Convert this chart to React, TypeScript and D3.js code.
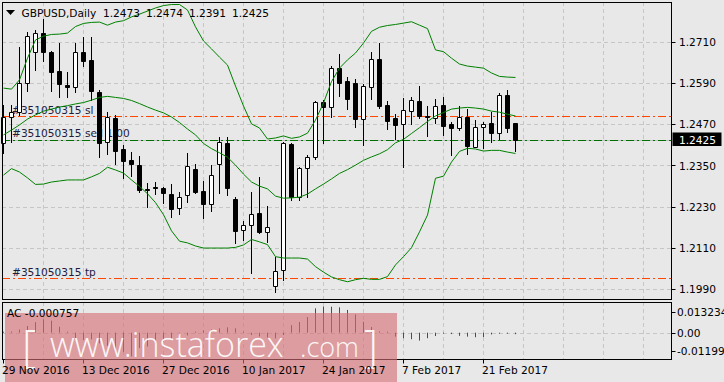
import React from "react";
import * as d3 from "d3";

const W = 724;
const H = 382;

// ---- data (GBPUSD Daily) ----
const opens = [
  1.2415, 1.2490, 1.2506, 1.2589, 1.2681, 1.2734, 1.2679, 1.2625, 1.2584, 1.2579,
  1.2681, 1.2657, 1.2565, 1.2417, 1.2487, 1.2397, 1.2366, 1.2351, 1.2282, 1.2287,
  1.2284, 1.2266, 1.2226, 1.2263, 1.2339, 1.2276, 1.2237, 1.2354, 1.2415, 1.2252,
  1.2163, 1.2177, 1.2213, 1.2156, 1.1999, 1.2046, 1.2413, 1.2259, 1.2342, 1.2374,
  1.2534, 1.2519, 1.2633, 1.2596, 1.2589, 1.2484, 1.2579, 1.2659, 1.2526, 1.2487,
  1.2470, 1.2508, 1.2538, 1.2494, 1.2487, 1.2526, 1.2471, 1.2458, 1.2490, 1.2405,
  1.2461, 1.2473, 1.2445, 1.2555, 1.2473,
];
const highs = [
  1.2526, 1.2526, 1.2695, 1.2739, 1.2744, 1.2775, 1.2683, 1.2705, 1.2623, 1.2705,
  1.2724, 1.2724, 1.2570, 1.2506, 1.2497, 1.2410, 1.2390, 1.2378, 1.2298, 1.2303,
  1.2288, 1.2296, 1.2274, 1.2385, 1.2354, 1.2305, 1.2351, 1.2434, 1.2432, 1.2259,
  1.2190, 1.2274, 1.2317, 1.2232, 1.2085, 1.2417, 1.2416, 1.2347, 1.2381, 1.2538,
  1.2540, 1.2639, 1.2674, 1.2606, 1.2601, 1.2587, 1.2681, 1.2707, 1.2538, 1.2499,
  1.2545, 1.2548, 1.2581, 1.2523, 1.2542, 1.2548, 1.2477, 1.2523, 1.2513, 1.2482,
  1.2477, 1.2506, 1.2560, 1.2570, 1.2474,
];
const lows = [
  1.2386, 1.2419, 1.2497, 1.2567, 1.2628, 1.2655, 1.2567, 1.2548, 1.2548, 1.2565,
  1.2639, 1.2540, 1.2376, 1.2383, 1.2354, 1.2313, 1.2320, 1.2274, 1.2228, 1.2266,
  1.2240, 1.2199, 1.2208, 1.2245, 1.2269, 1.2197, 1.2219, 1.2269, 1.2264, 1.2124,
  1.2133, 1.2037, 1.2155, 1.2128, 1.1983, 1.2017, 1.2250, 1.2250, 1.2259, 1.2369,
  1.2416, 1.2490, 1.2552, 1.2514, 1.2463, 1.2410, 1.2542, 1.2516, 1.2456, 1.2426,
  1.2345, 1.2471, 1.2487, 1.2436, 1.2474, 1.2439, 1.2381, 1.2453, 1.2383, 1.2403,
  1.2400, 1.2419, 1.2426, 1.2448, 1.2391,
];
const closes = [
  1.2492, 1.2505, 1.2589, 1.2726, 1.2734, 1.2679, 1.2623, 1.2586, 1.2577, 1.2679,
  1.2655, 1.2567, 1.2416, 1.2490, 1.2393, 1.2364, 1.2354, 1.2279, 1.2278, 1.2286,
  1.2269, 1.2223, 1.2259, 1.2349, 1.2274, 1.2237, 1.2322, 1.2417, 1.2284, 1.2160,
  1.2176, 1.2208, 1.2158, 1.2172, 1.2044, 1.2415, 1.2259, 1.2342, 1.2374, 1.2534,
  1.2519, 1.2633, 1.2591, 1.2543, 1.2484, 1.2581, 1.2659, 1.2523, 1.2480, 1.2468,
  1.2511, 1.2540, 1.2494, 1.2490, 1.2524, 1.2466, 1.2460, 1.2490, 1.2408, 1.2461,
  1.2471, 1.2445, 1.2555, 1.2460, 1.2425,
];

// Bollinger bands
const bbUpper = [
  1.2575, 1.2572, 1.2599, 1.2662, 1.2715, 1.2726, 1.2731, 1.2732, 1.2735, 1.2754,
  1.2763, 1.2766, 1.2767, 1.2758, 1.2767, 1.2771, 1.2782, 1.2790, 1.2799, 1.2808,
  1.2815, 1.2818, 1.2818, 1.2802, 1.2753, 1.2712, 1.2689, 1.2665, 1.2642, 1.2581,
  1.2523, 1.2471, 1.2459, 1.2427, 1.2430, 1.2436, 1.2429, 1.2433, 1.2444, 1.2482,
  1.2532, 1.2594, 1.2633, 1.2657, 1.2677, 1.2706, 1.2740, 1.2752, 1.2757, 1.2760,
  1.2764, 1.2768, 1.2758, 1.2748, 1.2686, 1.2681, 1.2662, 1.2645, 1.2639, 1.2636,
  1.2633, 1.2619, 1.2609, 1.2607, 1.2606,
];
const bbMiddle = [
  1.2439, 1.2453, 1.2468, 1.2485, 1.2497, 1.2508, 1.2514, 1.2520, 1.2524, 1.2529,
  1.2533, 1.2540, 1.2548, 1.2551, 1.2548, 1.2545, 1.2539, 1.2530, 1.2520, 1.2511,
  1.2503, 1.2491, 1.2475, 1.2456, 1.2439, 1.2414, 1.2399, 1.2387, 1.2374, 1.2351,
  1.2325, 1.2302, 1.2290, 1.2282, 1.2261, 1.2255, 1.2256, 1.2258, 1.2267, 1.2282,
  1.2296, 1.2311, 1.2327, 1.2338, 1.2351, 1.2365, 1.2375, 1.2384, 1.2396, 1.2416,
  1.2426, 1.2443, 1.2460, 1.2478, 1.2494, 1.2504, 1.2514, 1.2517, 1.2519, 1.2517,
  1.2514, 1.2508, 1.2505, 1.2499, 1.2494,
];
const bbLower = [
  1.2322, 1.2341, 1.2331, 1.2314, 1.2295, 1.2296, 1.2302, 1.2305, 1.2308, 1.2308,
  1.2308, 1.2317, 1.2327, 1.2345, 1.2337, 1.2328, 1.2308, 1.2289, 1.2268, 1.2242,
  1.2207, 1.2160, 1.2130, 1.2125, 1.2116, 1.2110, 1.2110, 1.2110, 1.2110, 1.2112,
  1.2119, 1.2135, 1.2128, 1.2120, 1.2085, 1.2081, 1.2081, 1.2081, 1.2078, 1.2056,
  1.2040, 1.2026, 1.2018, 1.2012, 1.2018, 1.2022, 1.2019, 1.2019, 1.2027, 1.2061,
  1.2085, 1.2111, 1.2157, 1.2206, 1.2313, 1.2319, 1.2360, 1.2391, 1.2400, 1.2398,
  1.2392, 1.2394, 1.2394, 1.2389, 1.2385,
];

// Accelerator Oscillator
const acValues = [
  0.00015, 0.0006, 0.0016, 0.0034, 0.0053, 0.0067, 0.0061, 0.0030, 0.0002, -0.0029,
  -0.0037, -0.0034, -0.0054, -0.0067, -0.0082, -0.0097, -0.01199, -0.0077, -0.0070, -0.0057,
  -0.0047, -0.0037, -0.0027, -0.0014, 0.00045, 0.0011, 0.0016, 0.0022, 0.0027, 0.0022,
  0.00035, -0.0012, -0.0019, -0.0024, -0.0029, -0.0012, 0.0038, 0.0054, 0.0079, 0.0123,
  0.013234, 0.0131, 0.0128, 0.0115, 0.0092, 0.0055, 0.0029, 0.0006, 0.00035, -0.0020,
  -0.0028, -0.0033, -0.0040, -0.0028, -0.0017, -0.0005, -0.0007, -0.0016, -0.0020, -0.0023,
  -0.0022, -0.0009, -0.0003, -0.0005, -0.000757,
];

const priceTicks = [1.2710, 1.2590, 1.2470, 1.2350, 1.2230, 1.2110, 1.1990];
const dateTickIndex = [0, 10, 20, 30, 40, 50, 60];
const dateTickLabels = [
  "29 Nov 2016", "13 Dec 2016", "27 Dec 2016", "10 Jan 2017",
  "24 Jan 2017", "7 Feb 2017", "21 Feb 2017",
];
const acTickValues = [0.013234, 0, -0.01199];
const acTickLabels = ["0.013234", "0.00", "-0.01199"];

const slPrice = 1.2493;
const entryPrice = 1.2425;
const tpPrice = 1.2024;
const orderId = "#351050315";

// ---- layout ----
const L = 2;
const R = 671;
const mainTop = 2;
const mainBottom = 299;
const indTop = 302;
const indBottom = 359;
const FONT = "'DejaVu Sans', Verdana, sans-serif";
const FS = 10.6;

const y = d3.scaleLinear().domain([1.199, 1.271]).range([289.33, 41.67]);
const x = d3.scaleLinear().domain([0, 1]).range([3, 11]);
const acY = d3.scaleLinear().domain([-0.01199, 0.013234]).range([356.4, 306.5]);

const fmt4 = d3.format(".4f");

export default function App() {
  const n = closes.length;
  const idx = d3.range(n);
  const bandLine = (arr: number[]) =>
    d3.line<number>().x((i) => Math.round(x(i)) + 0.5).y((i) => y(arr[i]))(idx) || "";

  const gridX = d3.range(1, 17).map((k) => Math.round(x(k * 5)) + 0.5);
  const last = n - 1;

  return (
    <svg width={W} height={H} style={{ display: "block", position: "absolute", left: 0, top: 0 }}
      fontFamily={FONT}>
      <rect x={0} y={0} width={W} height={H} fill="#e8e8e8" />

      {/* grid main */}
      <g stroke="#c6c6c6" strokeDasharray="4,3" strokeWidth={1}>
        {priceTicks.map((p) => (
          <line key={"hg" + p} x1={L} x2={R} y1={Math.round(y(p)) + 0.5} y2={Math.round(y(p)) + 0.5} />
        ))}
        {gridX.map((gx) => (
          <line key={"vg" + gx} x1={gx} x2={gx} y1={mainTop} y2={mainBottom} />
        ))}
        {gridX.map((gx) => (
          <line key={"vgi" + gx} x1={gx} x2={gx} y1={indTop} y2={indBottom} />
        ))}
        <line x1={L} x2={R} y1={Math.round(acY(0)) + 0.5} y2={Math.round(acY(0)) + 0.5} />
      </g>

      {/* order labels (under candles) */}
      <g fontSize={FS} fill="#1c1c40">
        <text x={12} y={114}>{orderId + " sl"}</text>
        <text x={12} y={136.5}>{orderId + " sell 1.00"}</text>
        <text x={12} y={275.5}>{orderId + " tp"}</text>
      </g>

      {/* bid line and order lines */}
      <line x1={L} x2={R} y1={Math.round(y(closes[last])) + 0.5} y2={Math.round(y(closes[last])) + 0.5}
        stroke="#bdbdbd" strokeWidth={1} />
      <line x1={L} x2={R} y1={Math.round(y(slPrice)) + 0.5} y2={Math.round(y(slPrice)) + 0.5}
        stroke="#ff4500" strokeWidth={1} strokeDasharray="8,3,2,3" />
      <line x1={L} x2={R} y1={Math.round(y(tpPrice)) + 0.5} y2={Math.round(y(tpPrice)) + 0.5}
        stroke="#ff4500" strokeWidth={1} strokeDasharray="8,3,2,3" />
      <line x1={L} x2={R} y1={Math.round(y(entryPrice)) + 0.5} y2={Math.round(y(entryPrice)) + 0.5}
        stroke="#007000" strokeWidth={1} strokeDasharray="8,3,2,3" />

      {/* candles */}
      <g>
        {idx.map((i) => {
          const cx = Math.round(x(i));
          const yo = y(opens[i]);
          const yc = y(closes[i]);
          const top = Math.round(Math.min(yo, yc)) + 0.5;
          const bot = Math.round(Math.max(yo, yc)) + 0.5;
          const bull = closes[i] >= opens[i];
          const x0 = cx - 1.5;
          const x1 = cx + 2.5;
          return (
            <g key={"c" + i}>
              <line x1={cx + 0.5} x2={cx + 0.5} y1={Math.round(y(highs[i]))} y2={Math.round(y(lows[i])) + 1}
                stroke="#000" strokeWidth={1} />
              <path d={`M${x0},${top}H${x1}V${bot}H${x0}Z`} fill={bull ? "#fff" : "#000"}
                stroke="#000" strokeWidth={1} />
            </g>
          );
        })}
      </g>

      {/* Bollinger bands */}
      <g fill="none" stroke="#008000" strokeWidth={1}>
        <path d={bandLine(bbUpper)} />
        <path d={bandLine(bbMiddle)} />
        <path d={bandLine(bbLower)} />
      </g>

      {/* AC histogram */}
      <g strokeWidth={1}>
        {idx.map((i) => {
          const cx = Math.round(x(i)) + 0.5;
          const up = i === 0 ? true : acValues[i] > acValues[i - 1];
          const y0 = acY(0);
          const y1 = acY(acValues[i]);
          return (
            <line key={"ac" + i} x1={cx} x2={cx} y1={y0} y2={Math.abs(y1 - y0) < 1 ? y0 + (y1 < y0 ? -1 : 1) : y1}
              stroke={up ? "#008000" : "#ff0000"} />
          );
        })}
      </g>

      {/* panel borders */}
      <g fill="none" stroke="#000" strokeWidth={1}>
        <rect x={L + 0.5} y={mainTop + 0.5} width={R - L} height={mainBottom - mainTop} />
        <rect x={L + 0.5} y={indTop + 0.5} width={R - L} height={indBottom - indTop} />
      </g>

      {/* price axis */}
      <g fontSize={FS} fill="#000">
        {priceTicks.map((p) => (
          <g key={"pt" + p}>
            <line x1={R + 0.5} x2={R + 4.5} y1={Math.round(y(p)) + 0.5} y2={Math.round(y(p)) + 0.5} stroke="#000" />
            <text x={679} y={y(p)} dominantBaseline="central">{fmt4(p)}</text>
          </g>
        ))}
      </g>
      <rect x={672.5} y={132.5} width={49} height={13.5} fill="#000" />
      <text x={679} y={139.5} fontSize={FS} fill="#fff" dominantBaseline="central">{fmt4(closes[last])}</text>

      {/* AC axis */}
      <g fontSize={FS} fill="#000">
        {acTickValues.map((v, k) => {
          const ty = k === 0 ? 311.7 : k === 2 ? 351 : acY(v);
          return (
            <g key={"at" + k}>
              <line x1={R + 0.5} x2={R + 4.5} y1={Math.round(ty) + 0.5} y2={Math.round(ty) + 0.5} stroke="#000" />
              <text x={677} y={ty} dominantBaseline="central">{acTickLabels[k]}</text>
            </g>
          );
        })}
      </g>

      {/* date ticks */}
      <g>
        {dateTickIndex.map((di) => {
          const tx = Math.round(x(di)) + 0.5;
          return (
            <line key={"dt" + di} x1={tx} x2={tx} y1={indBottom + 0.5} y2={indBottom + 4.5} stroke="#000" />
          );
        })}
      </g>

      {/* watermark */}
      <rect x={5} y={313} width={392} height={69} fill="rgb(214,110,115)" opacity={0.62} />
      <g fill="#ffffff" fontFamily="'Open Sans', 'DejaVu Sans', sans-serif" fontWeight={300} opacity={0.92}>
        <text x={22} y={362} fontSize={44}>[</text>
        <text x={50} y={357} fontSize={34}>www.instaforex</text>
        <text x={300} y={357} fontSize={27}>.com</text>
        <text x={364} y={362} fontSize={44}>]</text>
      </g>

      {/* date labels */}
      <g fontSize={FS} fill="#000">
        {dateTickIndex.map((di, k) => (
          <text key={"dl" + di} x={Math.round(x(di)) - 1} y={374}>{dateTickLabels[k]}</text>
        ))}
      </g>

      {/* indicator label */}
      <text x={7} y={317} fontSize={FS} fill="#000">{"AC " + acValues[last].toFixed(6)}</text>

      {/* title */}
      <path d="M6,10H15L10.5,15Z" fill="#000" />
      <g fontSize={FS} fill="#000">
        <text x={21.5} y={17}>GBPUSD,Daily</text>
        <text x={103} y={17}>{fmt4(opens[last])}</text>
        <text x={146} y={17}>{fmt4(highs[last])}</text>
        <text x={189} y={17}>{fmt4(lows[last])}</text>
        <text x={232} y={17}>{fmt4(closes[last])}</text>
      </g>
    </svg>
  );
}
